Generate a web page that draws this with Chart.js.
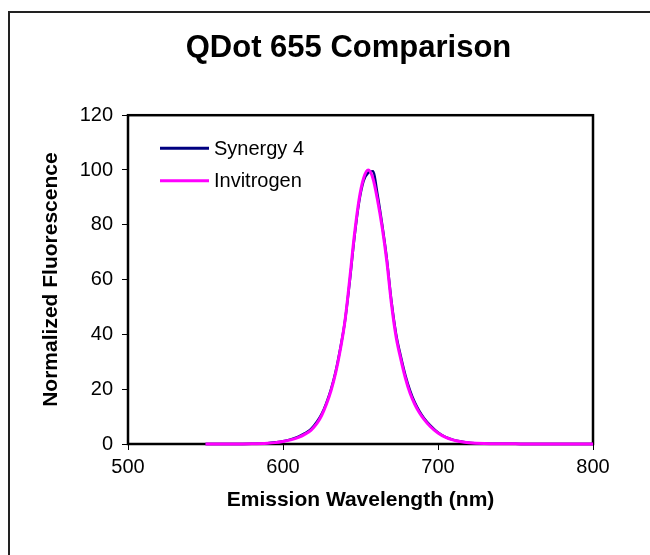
<!DOCTYPE html>
<html>
<head>
<meta charset="utf-8">
<script src="https://cdn.jsdelivr.net/npm/chart.js@4/dist/chart.umd.min.js"></script>
<style>
  body { margin: 0; background: #fff; overflow: hidden; }
  #wrap { width: 650px; height: 555px; }
</style>
</head>
<body>
<div id="wrap"><canvas id="chart"></canvas></div>
<script>
// emission wavelengths (nm)
const wavelengths = [550,560,570,580,590,595,600,605,610,614,618,622,625,628,631,634,637,640,643,646,649,652,655,658,661,664,667,670,673,676,679,682,685,688,691,695,700,705,710,715,720,730,740,750,760,780,800];
// normalized fluorescence
const synergy4 = [0,0,0,0.1,0.3,0.6,1.0,1.7,2.7,3.9,5.4,8.2,11,15,20,26.5,35,45,59,75,88,96,99,99.5,91,80,67.5,52,40,32,25,19.5,15.2,12,9.4,6.8,4.2,2.5,1.5,0.9,0.5,0.2,0.1,0.05,0,0,0];
const invitrogen = [0,0,0,0.1,0.3,0.5,0.9,1.5,2.4,3.5,5,7.6,10.5,14.5,19.5,26,34.5,45,60,76,89,97,100,97,89,79,66.5,51,39,31,24,18.5,14.5,11.4,9,6.4,4,2.4,1.4,0.8,0.5,0.2,0.1,0.05,0,0,0];
const xTicks = [500, 600, 700, 800];
const yTicks = [0, 20, 40, 60, 80, 100, 120];

const FONT = "'Liberation Sans', Arial, sans-serif";

function points(ys) {
    return wavelengths.map((w, i) => ({x: w, y: ys[i]}));
}

// outer frame of the picture and black box round the plot area
const framePlugin = {
    id: 'frame',
    beforeDraw(chart) {
        const ctx = chart.ctx;
        ctx.save();
        ctx.strokeStyle = '#222';
        ctx.lineWidth = 2;
        ctx.strokeRect(9, 12, 1000, 1000);
        ctx.restore();
    },
    beforeDatasetsDraw(chart) {
        const a = chart.chartArea;
        const ctx = chart.ctx;
        ctx.save();
        ctx.strokeStyle = '#000';
        ctx.lineWidth = 2.5;
        ctx.strokeRect(a.left, a.top, a.right - a.left, a.bottom - a.top);
        ctx.restore();
    }
};

// legend drawn inside the plot area, top left
const insideLegend = {
    id: 'insideLegend',
    afterDatasetsDraw(chart) {
        const ctx = chart.ctx;
        const a = chart.chartArea;
        ctx.save();
        ctx.font = '20px ' + FONT;
        ctx.textBaseline = 'middle';
        ctx.textAlign = 'left';
        chart.data.datasets.forEach((ds, i) => {
            const y = a.top + 33 + i * 32.5;
            ctx.strokeStyle = ds.borderColor;
            ctx.lineWidth = 3;
            ctx.beginPath();
            ctx.moveTo(a.left + 32, y);
            ctx.lineTo(a.left + 81, y);
            ctx.stroke();
            ctx.fillStyle = '#000';
            ctx.fillText(ds.label, a.left + 86, y + 1);
        });
        ctx.restore();
    }
};

new Chart(document.getElementById('chart'), {
    type: 'line',
    data: {
        datasets: [{
            label: 'Synergy 4',
            data: points(synergy4),
            borderColor: '#000080',
            borderWidth: 2.5,
            pointRadius: 0,
            cubicInterpolationMode: 'monotone',
            clip: 4,
            order: 2
        }, {
            label: 'Invitrogen',
            data: points(invitrogen),
            borderColor: '#FF00FF',
            borderWidth: 3,
            pointRadius: 0,
            cubicInterpolationMode: 'monotone',
            clip: 4,
            order: 1
        }]
    },
    options: {
        responsive: true,
        maintainAspectRatio: false,
        animation: false,
        layout: { padding: { left: 47, right: 0, top: 0, bottom: 0 } },
        plugins: {
            legend: { display: false },
            tooltip: { enabled: false },
            title: {
                display: true,
                text: 'QDot 655 Comparison',
                color: '#000',
                font: { family: FONT, size: 31, weight: 'bold', lineHeight: 1.2 },
                padding: { top: 30, bottom: 48 }
            }
        },
        scales: {
            x: {
                type: 'linear',
                min: 500,
                max: 800,
                afterBuildTicks: s => { s.ticks = xTicks.map(v => ({value: v})); },
                grid: { drawOnChartArea: false, drawTicks: true, tickLength: 6, color: '#000' },
                border: { display: false },
                ticks: { color: '#000', padding: 5, font: { family: FONT, size: 20 } },
                title: {
                    display: true,
                    text: 'Emission Wavelength (nm)',
                    color: '#000',
                    font: { family: FONT, size: 21, weight: 'bold', lineHeight: 1.2 },
                    padding: { top: 0, bottom: 42 }
                },
                afterFit: s => { s.height = 111; }
            },
            y: {
                min: 0,
                max: 120,
                afterBuildTicks: s => { s.ticks = yTicks.map(v => ({value: v})); },
                grid: { drawOnChartArea: false, drawTicks: true, tickLength: 6, color: '#000' },
                border: { display: false },
                ticks: { color: '#000', padding: 9, font: { family: FONT, size: 20 } },
                title: {
                    display: true,
                    text: 'Normalized Fluorescence',
                    color: '#000',
                    font: { family: FONT, size: 21, weight: 'bold', lineHeight: 1.2 },
                    padding: { top: -8, bottom: 0 }
                },
                afterFit: s => { s.width = 81; }
            },
            y2: {
                position: 'right',
                min: 0,
                max: 120,
                grid: { display: false },
                border: { display: false },
                ticks: { display: false },
                afterFit: s => { s.width = 57; }
            }
        }
    },
    plugins: [framePlugin, insideLegend]
});
</script>
</body>
</html>
